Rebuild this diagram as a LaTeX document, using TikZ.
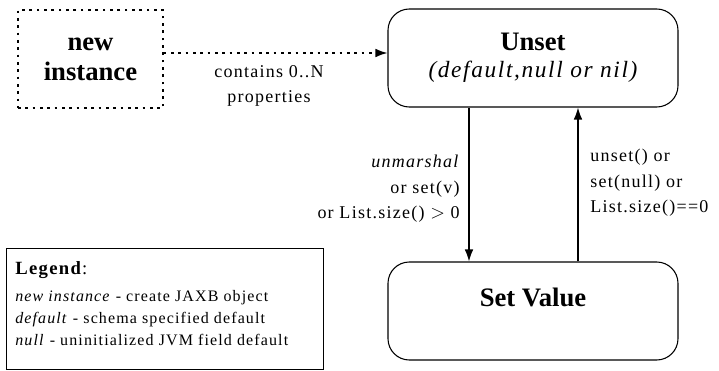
\documentclass[tikz,border=0pt]{standalone}
\usepackage{fontspec}
\setmainfont{Liberation Serif}
\newfontfamily\widefont[LetterSpace=7]{Liberation Serif}
\usetikzlibrary{arrows.meta,positioning}

\begin{document}
\begin{tikzpicture}[x=0.75pt,y=-0.75pt,
  state/.style={draw, line width=0.8pt, rounded corners=16pt, minimum width=217.5pt, minimum height=73.5pt, align=center},
  origin/.style={draw, line width=1.1pt, dash pattern=on 2pt off 3.5pt, minimum width=108.75pt, minimum height=73.5pt, align=center},
  bigtext/.style={font=\fontsize{20}{22.5}\selectfont\bfseries},
  trans/.style={-{Latex[length=9pt,width=6.5pt]}, line width=1pt},
  label/.style={font=\widefont\fontsize{13.5}{19}\selectfont, inner sep=0pt},
  legendbox/.style={draw, line width=1pt, minimum width=237.75pt, minimum height=90.75pt, inner sep=0pt},
  legendtext/.style={font=\widefont\fontsize{12}{16.5}\selectfont, inner sep=0pt, align=left}
]
\useasboundingbox (0,0) rectangle (719,371);

% ----- States -----
\node[origin, bigtext] (newinst) at (90.5,59) {new\\instance};
\node[state] (unset) at (533,58)
  {{\bfseries\fontsize{20}{22.5}\selectfont Unset}\\[7pt]
   {\widefont\itshape\fontsize{17.5}{20}\selectfont (default,null or nil)}};
\node[state, bigtext, text depth=20pt] (setval) at (533,311) {Set Value};

% ----- Helper rows/columns -----
\coordinate (dotrow) at (0,53);
\coordinate (downcol) at (469,0);
\coordinate (upcol) at (578,0);

% ----- Transitions -----
\draw[trans, line width=1.1pt, dash pattern=on 2pt off 3.5pt] (newinst.east |- dotrow) -- (unset.west |- dotrow);
\node[label, align=center] (contains) at (269,86) {contains 0..N\\properties};

\draw[trans] (unset.south -| downcol) -- (setval.north -| downcol);
\node[label, align=right, anchor=east] (setlbl) at (460,189) {\textit{unmarshal}\\or set(v)\\or List.size() $>$ 0};

\draw[trans] (setval.north -| upcol) -- (unset.south -| upcol);
\node[label, align=left, anchor=west] (unsetlbl) at (590,183) {unset() or\\set(null) or\\List.size()==0};

% ----- Legend -----
\node[legendbox, anchor=north west] (legend) at (6,248) {};
\node[legendtext, anchor=north west] (legendlines) at (15,261)
  {{\fontsize{14}{16.5}\selectfont\textbf{Legend}:}\\[4pt]
   \textit{new instance} - create JAXB object\\
   \textit{default} - schema specified default\\
   \textit{null} - uninitialized JVM field default};

\end{tikzpicture}
\end{document}
